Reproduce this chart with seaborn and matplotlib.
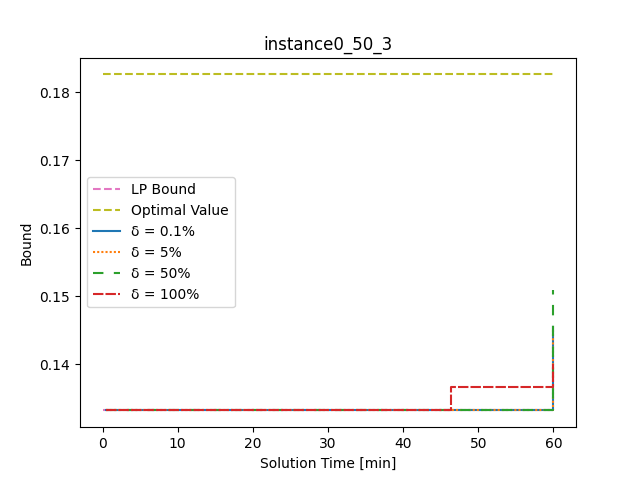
import matplotlib
matplotlib.use("Agg")
import matplotlib.pyplot as plt
import seaborn as sns

# bound trajectories (time in minutes)
lp_time = [0.0, 60.0]
lp_bound = [0.1332, 0.1332]

opt_time = [0.0, 60.0]
opt_value = [0.1826, 0.1826]

t_01 = [0.5, 60.0, 60.0]
b_01 = [0.1332, 0.1332, 0.1455]

t_5 = [0.5, 60.0, 60.0]
b_5 = [0.1332, 0.1332, 0.1450]

t_50 = [0.5, 60.0, 60.0]
b_50 = [0.1332, 0.1332, 0.1509]

t_100 = [0.5, 46.4, 46.4, 60.0, 60.0]
b_100 = [0.1332, 0.1332, 0.1366, 0.1366, 0.1400]

fig, ax = plt.subplots(figsize=(6.4, 4.8), dpi=100)

kw = dict(ax=ax, estimator=None, sort=False, linewidth=1.5)
sns.lineplot(x=lp_time, y=lp_bound, color="tab:pink", linestyle="--", label="LP Bound", **kw)
sns.lineplot(x=opt_time, y=opt_value, color="tab:olive", linestyle="--", label="Optimal Value", **kw)
sns.lineplot(x=t_01, y=b_01, color="tab:blue", linestyle="-", label="δ = 0.1%", **kw)
sns.lineplot(x=t_5, y=b_5, color="tab:orange", linestyle=(0, (1, 1)), label="δ = 5%", **kw)
sns.lineplot(x=t_50, y=b_50, color="tab:green", linestyle=(0, (5, 5)), label="δ = 50%", **kw)
sns.lineplot(x=t_100, y=b_100, color="tab:red", linestyle=(0, (5, 1)), label="δ = 100%", **kw)

ax.set_title("instance0_50_3")
ax.set_xlabel("Solution Time [min]")
ax.set_ylabel("Bound")
ax.legend(loc="center left")

fig.savefig("out.png", dpi=100)
